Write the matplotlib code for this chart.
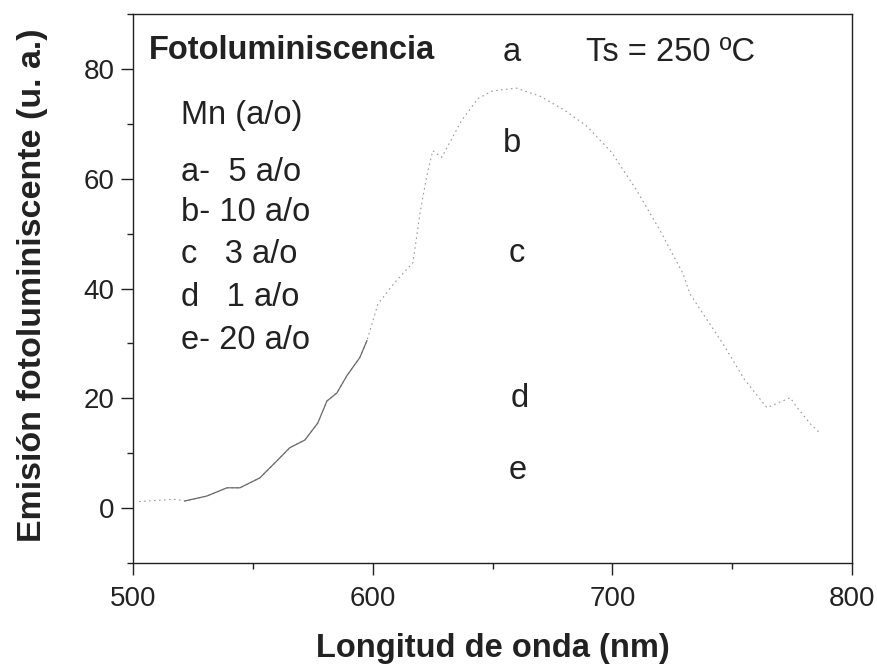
import matplotlib
matplotlib.use("Agg")
import matplotlib.pyplot as plt
from matplotlib.ticker import MultipleLocator

plt.rcParams['font.family'] = ['Liberation Sans', 'DejaVu Sans']

# Photoluminescence spectrum (wavelength in nm, emission in a.u.)
wavelength = [502.5, 510, 517.4, 521.6, 530.8, 539.2, 544.6, 552.9, 560, 565.4, 571.7,
              577.1, 580.9, 585.1, 589.2, 594.6, 597.6, 602.2, 609, 616.8, 619.7, 621.8,
              623, 625.1, 628.8, 637.1, 643.9, 650, 660, 670, 680, 689.3, 699.7, 710,
              720, 729.5, 732.4, 746.2, 755, 764.5, 774.2, 777.5, 782.5, 786.6]
emission = [1.2, 1.4, 1.6, 1.3, 2.2, 3.7, 3.7, 5.5, 8.6, 11.0, 12.4,
            15.5, 19.5, 21.0, 24.1, 27.4, 30.5, 37.2, 41.0, 44.7, 53.6, 58.7,
            61.4, 65.1, 63.9, 70.6, 74.6, 76.0, 76.5, 75.0, 72.5, 69.6, 64.8, 58.0,
            50.5, 42.7, 39.0, 29.9, 23.5, 18.3, 20.1, 18.1, 15.4, 13.7]

curve_labels = ['a', 'b', 'c', 'd', 'e']
curve_label_x = [657.9, 658.1, 660.2, 661.5, 660.6]
curve_label_y = [82.9, 66.5, 46.3, 19.9, 6.8]

legend_lines = ['Mn (a/o)', 'a-  5 a/o', 'b- 10 a/o', 'c   3 a/o', 'd   1 a/o', 'e- 20 a/o']
legend_y = [71.5, 61.1, 53.8, 46.2, 38.3, 30.5]

x_ticks = [500, 600, 700, 800]
y_ticks = [0, 20, 40, 60, 80]

ink = '#222222'

fig = plt.figure(figsize=(8.78, 6.67), dpi=100)
ax = fig.add_axes([0.1515, 0.1559, 0.8189, 0.8231])

ax.plot(wavelength, emission, color='#9a9a9a', lw=0.8, linestyle=(0, (1.5, 3)))
n_vis = wavelength.index(597.6) + 1
ax.plot(wavelength[3:n_vis], emission[3:n_vis], color='#6a6a6a', lw=0.9)

ax.set_xlim(500, 800)
ax.set_ylim(-10, 90)
ax.set_xticks(x_ticks)
ax.set_yticks(y_ticks)
ax.xaxis.set_minor_locator(MultipleLocator(50))
ax.yaxis.set_minor_locator(MultipleLocator(10))
ax.tick_params(which='major', direction='out', length=8.5, width=1, labelsize=20,
               colors=ink, pad=5)
ax.tick_params(axis='x', which='major', pad=8)
ax.tick_params(which='minor', direction='out', length=4.5, width=1, colors=ink)
for s in ax.spines.values():
    s.set_color(ink)
    s.set_linewidth(1.0)

ax.set_xlabel('Longitud de onda (nm)', fontsize=23.5, fontweight='bold', color=ink)
ax.set_ylabel('Emisión fotoluminiscente (u. a.)', fontsize=24.5, fontweight='bold',
              color=ink)
ax.xaxis.label.set_va('center')
ax.yaxis.label.set_va('center')
ax.xaxis.set_label_coords(0.5, -0.156)
ax.yaxis.set_label_coords(-0.14, 0.506)

ax.text(506.6, 81.8, 'Fotoluminiscencia', fontsize=23.5, fontweight='bold',
        va='baseline', ha='left', color=ink)
ax.text(689.0, 81.5, 'Ts = 250 ºC', fontsize=23.5, va='baseline', ha='left', color=ink)
for lab, lx, ly in zip(curve_labels, curve_label_x, curve_label_y):
    ax.text(lx, ly, lab, fontsize=23.5, va='center', ha='center', color=ink)
for txt, ly in zip(legend_lines, legend_y):
    ax.text(519.9, ly, txt, fontsize=23.5, va='center', ha='left', color=ink)

fig.savefig('out.png', dpi=100)
